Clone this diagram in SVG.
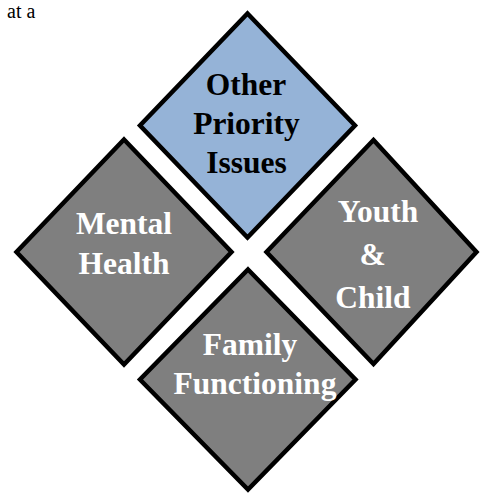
<svg xmlns="http://www.w3.org/2000/svg" width="480" height="495" viewBox="0 0 480 495">
  <style>
    .d { stroke: #000; stroke-width: 4.5; stroke-linejoin: miter; stroke-miterlimit: 10; }
    .blue { fill: #95B3D7; }
    .gray { fill: #7F7F7F; }
    .t { font-family: "Liberation Serif", "Times New Roman", serif; font-weight: bold; font-size: 31.5px; text-anchor: middle; }
    .dark { fill: #000; }
    .light { fill: #fff; }
    .note { font-family: "Liberation Serif", "Times New Roman", serif; font-size: 20px; fill: #000; }
  </style>
  <rect width="480" height="495" fill="#fff"/>
  <text class="note" x="7" y="18">at a</text>
  <g id="connectors"></g>
  <g id="other-priority-issues">
    <path class="d blue" d="M247.5,13.5 L355,125.5 L247.5,237.5 L140,125.5 Z"/>
    <text class="t dark" x="246" y="95">Other</text>
    <text class="t dark" x="246.5" y="133.5">Priority</text>
    <text class="t dark" x="246.5" y="172.5">Issues</text>
  </g>
  <g id="mental-health">
    <path class="d gray" d="M124,139.5 L231.5,252 L124,364.5 L16.5,252 Z"/>
    <text class="t light" x="124" y="234">Mental</text>
    <text class="t light" x="124" y="274">Health</text>
  </g>
  <g id="youth-child">
    <path class="d gray" d="M373.5,140 L476.5,252 L373.5,364 L266.5,252 Z"/>
    <text class="t light" x="378" y="221.5">Youth</text>
    <text class="t light" x="372.5" y="265">&amp;</text>
    <text class="t light" x="373" y="308">Child</text>
  </g>
  <g id="family-functioning">
    <path class="d gray" d="M248,269.5 L355.5,379.5 L248,489.5 L140,379.5 Z"/>
    <text class="t light" x="250" y="355">Family</text>
    <text class="t light" x="255" y="393.5">Functioning</text>
  </g>
</svg>
